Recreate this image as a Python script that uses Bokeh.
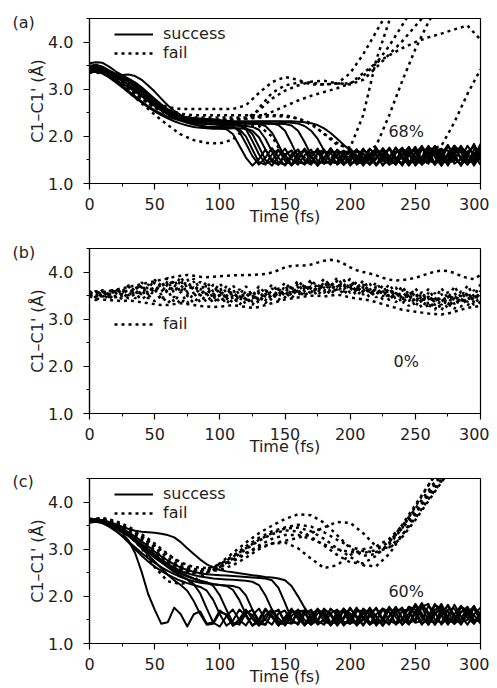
from bokeh.plotting import figure
from bokeh.layouts import column
from bokeh.models import Legend, LegendItem, Label, FixedTicker, PrintfTickFormatter, Range1d, Title
from bokeh.embed import file_html
from bokeh.resources import INLINE

# ---------------- data ----------------
time_5 = list(range(0, 301, 5))     # fs, 61 samples
time_10 = list(range(0, 301, 10))   # fs, 31 samples
x_ticks = [0, 50, 100, 150, 200, 250, 300]
x_minor = [25, 75, 125, 175, 225, 275]
y_ticks = [1.0, 2.0, 3.0, 4.0]
y_minor = [1.5, 2.5, 3.5, 4.5]
panel_tags = ["(a)", "(b)", "(c)"]
panel_pct = ["68%", "0%", "60%"]

# panel (a) success
a_s1 = [3.40, 3.42, 3.38, 3.30, 3.20, 3.08, 2.96, 2.85, 2.74, 2.64,
        2.55, 2.48, 2.42, 2.37, 2.33, 2.29, 2.25, 2.22, 2.20, 2.18,
        2.17, 2.15, 2.05, 1.80, 1.55, 1.38, 1.52, 1.72, 1.50, 1.40,
        1.62, 1.70, 1.45, 1.42, 1.66, 1.68, 1.44, 1.45, 1.70, 1.62,
        1.40, 1.50, 1.72, 1.58, 1.38, 1.55, 1.74, 1.52, 1.40, 1.62,
        1.72, 1.46, 1.45, 1.68, 1.70, 1.44, 1.50, 1.75, 1.62, 1.40,
        1.58]
a_s2 = [3.55, 3.57, 3.56, 3.48, 3.38, 3.30, 3.22, 3.12, 3.00, 2.88,
        2.76, 2.65, 2.56, 2.48, 2.42, 2.37, 2.33, 2.30, 2.28, 2.26,
        2.25, 2.24, 2.22, 2.10, 1.85, 1.58, 1.40, 1.55, 1.75, 1.55,
        1.38, 1.55, 1.72, 1.50, 1.42, 1.65, 1.72, 1.46, 1.44, 1.68,
        1.66, 1.40, 1.50, 1.74, 1.60, 1.38, 1.56, 1.76, 1.52, 1.42,
        1.66, 1.78, 1.48, 1.44, 1.72, 1.70, 1.42, 1.52, 1.80, 1.60,
        1.40]
a_s3 = [3.35, 3.38, 3.36, 3.32, 3.30, 3.30, 3.31, 3.28, 3.20, 3.08,
        2.95, 2.80, 2.66, 2.54, 2.45, 2.38, 2.33, 2.30, 2.28, 2.27,
        2.26, 2.25, 2.24, 2.22, 2.18, 2.05, 1.78, 1.50, 1.38, 1.58,
        1.74, 1.52, 1.40, 1.60, 1.72, 1.48, 1.42, 1.66, 1.68, 1.44,
        1.46, 1.70, 1.64, 1.40, 1.52, 1.75, 1.58, 1.40, 1.58, 1.78,
        1.55, 1.40, 1.62, 1.80, 1.52, 1.42, 1.68, 1.76, 1.46, 1.48,
        1.78]
a_s4 = [3.45, 3.47, 3.42, 3.35, 3.28, 3.22, 3.15, 3.05, 2.93, 2.80,
        2.68, 2.58, 2.50, 2.43, 2.38, 2.34, 2.32, 2.31, 2.32, 2.33,
        2.32, 2.30, 2.28, 2.25, 2.15, 1.90, 1.62, 1.42, 1.48, 1.70,
        1.62, 1.40, 1.50, 1.72, 1.58, 1.38, 1.52, 1.74, 1.55, 1.40,
        1.58, 1.72, 1.48, 1.42, 1.66, 1.70, 1.44, 1.46, 1.72, 1.66,
        1.40, 1.52, 1.78, 1.60, 1.38, 1.58, 1.80, 1.54, 1.40, 1.64,
        1.76]
a_s5 = [3.38, 3.40, 3.37, 3.30, 3.24, 3.18, 3.10, 3.00, 2.88, 2.76,
        2.64, 2.55, 2.47, 2.41, 2.36, 2.32, 2.29, 2.27, 2.26, 2.25,
        2.24, 2.24, 2.23, 2.23, 2.22, 2.20, 2.14, 1.95, 1.68, 1.44,
        1.40, 1.62, 1.72, 1.48, 1.40, 1.64, 1.70, 1.45, 1.44, 1.68,
        1.66, 1.42, 1.48, 1.72, 1.62, 1.40, 1.52, 1.76, 1.58, 1.38,
        1.56, 1.80, 1.56, 1.40, 1.62, 1.82, 1.52, 1.42, 1.68, 1.78,
        1.48]
a_s6 = [3.42, 3.44, 3.40, 3.34, 3.30, 3.27, 3.22, 3.14, 3.03, 2.90,
        2.77, 2.65, 2.55, 2.47, 2.41, 2.37, 2.35, 2.36, 2.37, 2.36,
        2.34, 2.32, 2.30, 2.29, 2.28, 2.27, 2.26, 2.22, 2.08, 1.82,
        1.55, 1.38, 1.52, 1.74, 1.56, 1.38, 1.55, 1.75, 1.54, 1.40,
        1.60, 1.72, 1.48, 1.42, 1.68, 1.68, 1.42, 1.48, 1.74, 1.62,
        1.38, 1.56, 1.80, 1.56, 1.38, 1.64, 1.80, 1.50, 1.42, 1.72,
        1.72]
a_s7 = [3.36, 3.38, 3.35, 3.28, 3.20, 3.12, 3.04, 2.95, 2.85, 2.75,
        2.65, 2.56, 2.48, 2.42, 2.37, 2.33, 2.30, 2.28, 2.27, 2.27,
        2.28, 2.29, 2.30, 2.30, 2.29, 2.28, 2.28, 2.28, 2.27, 2.24,
        2.12, 1.85, 1.55, 1.40, 1.55, 1.74, 1.52, 1.40, 1.62, 1.70,
        1.45, 1.44, 1.70, 1.64, 1.40, 1.52, 1.76, 1.56, 1.38, 1.60,
        1.78, 1.50, 1.42, 1.70, 1.74, 1.44, 1.48, 1.78, 1.64, 1.38,
        1.60]
a_s8 = [3.44, 3.45, 3.41, 3.35, 3.30, 3.26, 3.20, 3.10, 2.98, 2.85,
        2.72, 2.60, 2.50, 2.44, 2.40, 2.38, 2.37, 2.36, 2.34, 2.32,
        2.30, 2.29, 2.29, 2.29, 2.30, 2.30, 2.31, 2.31, 2.31, 2.31,
        2.30, 2.29, 2.27, 2.22, 2.12, 1.95, 1.70, 1.48, 1.42, 1.62,
        1.72, 1.50, 1.40, 1.62, 1.72, 1.48, 1.42, 1.68, 1.70, 1.44,
        1.46, 1.74, 1.64, 1.40, 1.54, 1.80, 1.58, 1.38, 1.60, 1.82,
        1.54]
a_s9 = [3.40, 3.41, 3.38, 3.33, 3.29, 3.25, 3.18, 3.08, 2.96, 2.84,
        2.72, 2.61, 2.52, 2.46, 2.42, 2.40, 2.39, 2.38, 2.37, 2.36,
        2.34, 2.33, 2.32, 2.32, 2.32, 2.32, 2.32, 2.32, 2.32, 2.32,
        2.32, 2.32, 2.31, 2.30, 2.28, 2.24, 2.17, 2.07, 1.95, 1.82,
        1.70, 1.55, 1.42, 1.50, 1.70, 1.62, 1.40, 1.48, 1.72, 1.66,
        1.42, 1.48, 1.76, 1.68, 1.42, 1.50, 1.80, 1.66, 1.40, 1.56,
        1.84]
a_s10 = [3.36, 3.37, 3.33, 3.25, 3.15, 3.04, 2.93, 2.82, 2.72, 2.62,
         2.53, 2.45, 2.38, 2.32, 2.27, 2.23, 2.20, 2.18, 2.17, 2.16,
         2.16, 2.16, 2.17, 2.17, 2.16, 2.12, 1.98, 1.72, 1.46, 1.40,
         1.60, 1.70, 1.46, 1.42, 1.66, 1.68, 1.42, 1.48, 1.72, 1.60,
         1.38, 1.54, 1.74, 1.54, 1.40, 1.62, 1.74, 1.48, 1.44, 1.70,
         1.68, 1.40, 1.52, 1.78, 1.60, 1.38, 1.62, 1.80, 1.52, 1.42,
         1.70]
a_s11 = [3.50, 3.52, 3.48, 3.40, 3.33, 3.28, 3.22, 3.14, 3.04, 2.92,
         2.80, 2.68, 2.58, 2.50, 2.44, 2.40, 2.37, 2.35, 2.33, 2.31,
         2.29, 2.28, 2.27, 2.27, 2.27, 2.27, 2.27, 2.27, 2.27, 2.27,
         2.26, 2.23, 2.12, 1.88, 1.60, 1.40, 1.52, 1.72, 1.58, 1.40,
         1.52, 1.72, 1.56, 1.40, 1.56, 1.74, 1.52, 1.40, 1.62, 1.76,
         1.50, 1.42, 1.68, 1.76, 1.46, 1.46, 1.74, 1.70, 1.42, 1.52,
         1.80]
a_s12 = [3.48, 3.50, 3.46, 3.38, 3.28, 3.18, 3.08, 2.97, 2.86, 2.75,
         2.65, 2.56, 2.48, 2.41, 2.35, 2.30, 2.26, 2.23, 2.21, 2.20,
         2.20, 2.20, 2.19, 2.15, 2.00, 1.72, 1.45, 1.40, 1.62, 1.72,
         1.48, 1.40, 1.64, 1.70, 1.45, 1.44, 1.68, 1.66, 1.40, 1.50,
         1.74, 1.60, 1.38, 1.56, 1.76, 1.54, 1.40, 1.64, 1.76, 1.48,
         1.44, 1.72, 1.72, 1.42, 1.50, 1.80, 1.62, 1.38, 1.58, 1.84,
         1.56]

# panel (a) fail (10 fs sampling)
a_f1 = [3.42, 3.40, 3.25, 3.06, 2.87, 2.72, 2.62, 2.58, 2.58, 2.58,
        2.58, 2.58, 2.66, 2.92, 3.15, 3.26, 3.20, 3.10, 3.10, 3.13,
        3.10, 3.20, 3.46, 3.74, 4.02, 4.34, 4.66, 4.95, 5.20, 5.40,
        5.60]
a_f2 = [3.38, 3.36, 3.18, 2.94, 2.70, 2.46, 2.24, 2.04, 1.92, 1.86,
        1.85, 1.93, 2.20, 2.60, 2.92, 3.08, 3.14, 3.14, 3.10, 3.12,
        3.34, 3.74, 4.22, 4.70, 5.10, 5.40, 5.70, 6.00, 6.20, 6.40,
        6.60]
a_f3 = [3.45, 3.42, 3.30, 3.12, 2.88, 2.67, 2.51, 2.43, 2.40, 2.40,
        2.40, 2.40, 2.40, 2.42, 2.52, 2.64, 2.76, 2.86, 2.94, 3.02,
        3.12, 3.34, 3.56, 3.72, 3.87, 4.00, 4.10, 4.18, 4.27, 4.35,
        4.05]
a_f4 = [3.40, 3.38, 3.22, 3.01, 2.80, 2.61, 2.48, 2.39, 2.34, 2.33,
        2.35, 2.36, 2.38, 2.55, 2.80, 2.97, 3.08, 3.16, 3.18, 3.12,
        3.12, 3.28, 3.55, 3.92, 4.36, 4.80, 5.20, 5.50, 5.80, 6.00,
        6.20]
a_f5 = [3.36, 3.34, 3.19, 3.00, 2.80, 2.61, 2.46, 2.38, 2.35, 2.35,
        2.35, 2.35, 2.37, 2.40, 2.43, 2.42, 2.38, 2.28, 2.05, 1.82,
        1.76, 2.45, 3.62, 4.45, 5.10, 5.60, 6.00, 6.30, 6.60, 6.80,
        7.00]
a_f6 = [3.44, 3.42, 3.28, 3.08, 2.88, 2.70, 2.56, 2.48, 2.45, 2.45,
        2.45, 2.45, 2.45, 2.45, 2.45, 2.45, 2.38, 2.25, 2.06, 1.86,
        1.72, 1.63, 1.80, 2.45, 3.18, 3.85, 4.42, 4.90, 5.30, 5.60,
        5.90]
a_f7 = [3.40, 3.38, 3.24, 3.04, 2.84, 2.66, 2.52, 2.42, 2.35, 2.30,
        2.27, 2.25, 2.24, 2.22, 2.00, 1.52, 1.62, 1.48, 1.70, 1.46,
        1.66, 1.50, 1.72, 1.48, 1.66, 1.54, 1.72, 1.80, 2.30, 2.90,
        3.42]

# panel (b) fail (5 fs sampling)
b_f1 = [3.55, 3.58, 3.56, 3.60, 3.62, 3.66, 3.68, 3.72, 3.74, 3.78,
        3.80, 3.84, 3.86, 3.90, 3.92, 3.94, 3.92, 3.90, 3.89, 3.90,
        3.91, 3.92, 3.93, 3.93, 3.94, 3.94, 3.95, 3.96, 3.99, 4.04,
        4.10, 4.13, 4.14, 4.14, 4.16, 4.20, 4.24, 4.26, 4.24, 4.18,
        4.10, 4.04, 4.00, 3.97, 3.93, 3.88, 3.84, 3.82, 3.83, 3.85,
        3.88, 3.92, 3.97, 4.01, 4.03, 4.02, 3.98, 3.92, 3.87, 3.85,
        3.94]
b_f2 = [3.48, 3.44, 3.42, 3.40, 3.40, 3.38, 3.40, 3.38, 3.36, 3.34,
        3.32, 3.30, 3.30, 3.32, 3.34, 3.32, 3.30, 3.28, 3.27, 3.26,
        3.27, 3.28, 3.30, 3.28, 3.26, 3.24, 3.26, 3.30, 3.34, 3.38,
        3.42, 3.44, 3.46, 3.48, 3.50, 3.50, 3.48, 3.50, 3.52, 3.50,
        3.46, 3.44, 3.42, 3.40, 3.36, 3.32, 3.28, 3.24, 3.20, 3.18,
        3.16, 3.14, 3.12, 3.11, 3.10, 3.12, 3.16, 3.20, 3.24, 3.26,
        3.28]
b_f3 = [3.60, 3.45, 3.62, 3.46, 3.65, 3.48, 3.70, 3.50, 3.74, 3.52,
        3.78, 3.52, 3.82, 3.55, 3.84, 3.52, 3.80, 3.48, 3.74, 3.42,
        3.68, 3.40, 3.64, 3.38, 3.60, 3.36, 3.62, 3.40, 3.66, 3.46,
        3.72, 3.50, 3.76, 3.54, 3.78, 3.56, 3.80, 3.58, 3.82, 3.58,
        3.78, 3.56, 3.74, 3.52, 3.70, 3.48, 3.66, 3.42, 3.62, 3.38,
        3.58, 3.34, 3.56, 3.30, 3.54, 3.30, 3.56, 3.34, 3.58, 3.36,
        3.60]
b_f4 = [3.48, 3.60, 3.46, 3.62, 3.48, 3.66, 3.50, 3.70, 3.52, 3.74,
        3.55, 3.80, 3.56, 3.84, 3.56, 3.86, 3.54, 3.80, 3.50, 3.74,
        3.46, 3.70, 3.42, 3.64, 3.40, 3.60, 3.40, 3.62, 3.44, 3.66,
        3.50, 3.70, 3.54, 3.74, 3.56, 3.76, 3.60, 3.80, 3.62, 3.84,
        3.60, 3.80, 3.56, 3.76, 3.52, 3.72, 3.48, 3.68, 3.42, 3.62,
        3.36, 3.58, 3.32, 3.56, 3.30, 3.58, 3.32, 3.60, 3.36, 3.62,
        3.40]
b_f5 = [3.52, 3.40, 3.54, 3.42, 3.56, 3.42, 3.58, 3.44, 3.62, 3.44,
        3.64, 3.40, 3.62, 3.36, 3.58, 3.34, 3.56, 3.36, 3.54, 3.34,
        3.52, 3.32, 3.50, 3.30, 3.48, 3.30, 3.50, 3.34, 3.54, 3.40,
        3.58, 3.44, 3.62, 3.48, 3.66, 3.50, 3.68, 3.52, 3.70, 3.52,
        3.68, 3.50, 3.64, 3.46, 3.60, 3.42, 3.54, 3.36, 3.50, 3.28,
        3.46, 3.24, 3.44, 3.20, 3.44, 3.22, 3.46, 3.26, 3.48, 3.30,
        3.50]
b_f6 = [3.58, 3.50, 3.62, 3.52, 3.66, 3.56, 3.72, 3.60, 3.78, 3.64,
        3.84, 3.66, 3.88, 3.68, 3.90, 3.66, 3.86, 3.62, 3.80, 3.58,
        3.76, 3.56, 3.72, 3.52, 3.70, 3.50, 3.70, 3.54, 3.74, 3.58,
        3.78, 3.62, 3.82, 3.66, 3.84, 3.68, 3.86, 3.70, 3.88, 3.70,
        3.86, 3.66, 3.82, 3.62, 3.78, 3.58, 3.74, 3.54, 3.70, 3.48,
        3.66, 3.44, 3.64, 3.42, 3.66, 3.44, 3.70, 3.46, 3.72, 3.48,
        3.74]
b_f7 = [3.54, 3.48, 3.58, 3.50, 3.60, 3.52, 3.64, 3.54, 3.68, 3.56,
        3.70, 3.58, 3.74, 3.60, 3.72, 3.58, 3.68, 3.54, 3.62, 3.50,
        3.58, 3.46, 3.56, 3.44, 3.54, 3.44, 3.56, 3.48, 3.60, 3.52,
        3.64, 3.56, 3.68, 3.60, 3.70, 3.62, 3.72, 3.64, 3.74, 3.64,
        3.72, 3.62, 3.68, 3.58, 3.64, 3.54, 3.60, 3.50, 3.56, 3.46,
        3.52, 3.40, 3.48, 3.36, 3.46, 3.36, 3.48, 3.40, 3.52, 3.42,
        3.54]
b_f8 = [3.50, 3.56, 3.48, 3.54, 3.46, 3.54, 3.44, 3.54, 3.42, 3.52,
        3.38, 3.50, 3.34, 3.48, 3.32, 3.50, 3.34, 3.52, 3.36, 3.54,
        3.36, 3.52, 3.34, 3.50, 3.32, 3.50, 3.34, 3.54, 3.40, 3.58,
        3.46, 3.62, 3.50, 3.66, 3.54, 3.68, 3.56, 3.70, 3.58, 3.72,
        3.56, 3.70, 3.52, 3.66, 3.46, 3.62, 3.40, 3.58, 3.32, 3.54,
        3.26, 3.50, 3.22, 3.48, 3.18, 3.48, 3.22, 3.50, 3.28, 3.52,
        3.32]

# panel (c) success
c_s1 = [3.60, 3.62, 3.60, 3.54, 3.45, 3.35, 3.18, 2.92, 2.52, 2.05,
        1.72, 1.42, 1.45, 1.76, 1.62, 1.36, 1.62, 1.68, 1.42, 1.45,
        1.70, 1.60, 1.38, 1.52, 1.72, 1.52, 1.38, 1.60, 1.72, 1.46,
        1.42, 1.68, 1.66, 1.40, 1.50, 1.72, 1.58, 1.38, 1.56, 1.74,
        1.52, 1.40, 1.64, 1.72, 1.44, 1.46, 1.74, 1.66, 1.40, 1.54,
        1.80, 1.60, 1.40, 1.62, 1.78, 1.52, 1.42, 1.68, 1.70, 1.46,
        1.52]
c_s2 = [3.58, 3.60, 3.58, 3.53, 3.46, 3.38, 3.28, 3.16, 3.02, 2.88,
        2.74, 2.60, 2.46, 2.34, 2.24, 2.12, 1.90, 1.62, 1.40, 1.42,
        1.66, 1.62, 1.38, 1.46, 1.70, 1.60, 1.38, 1.52, 1.72, 1.54,
        1.38, 1.58, 1.72, 1.50, 1.40, 1.64, 1.70, 1.44, 1.44, 1.70,
        1.64, 1.40, 1.50, 1.74, 1.58, 1.38, 1.58, 1.76, 1.52, 1.42,
        1.68, 1.78, 1.48, 1.44, 1.74, 1.68, 1.42, 1.52, 1.76, 1.60,
        1.42]
c_s3 = [3.62, 3.63, 3.60, 3.55, 3.48, 3.40, 3.31, 3.21, 3.10, 2.98,
        2.86, 2.74, 2.62, 2.52, 2.44, 2.36, 2.26, 2.06, 1.74, 1.44,
        1.36, 1.58, 1.72, 1.50, 1.38, 1.60, 1.74, 1.50, 1.40, 1.64,
        1.70, 1.44, 1.44, 1.70, 1.66, 1.40, 1.50, 1.74, 1.60, 1.38,
        1.56, 1.76, 1.54, 1.40, 1.62, 1.74, 1.48, 1.42, 1.70, 1.72,
        1.44, 1.48, 1.80, 1.66, 1.40, 1.56, 1.82, 1.58, 1.40, 1.62,
        1.76]
c_s4 = [3.58, 3.60, 3.57, 3.50, 3.40, 3.28, 3.14, 3.00, 2.86, 2.74,
        2.63, 2.54, 2.46, 2.39, 2.33, 2.28, 2.24, 2.20, 2.12, 1.92,
        1.62, 1.38, 1.48, 1.72, 1.58, 1.38, 1.52, 1.74, 1.56, 1.38,
        1.56, 1.74, 1.52, 1.40, 1.62, 1.72, 1.46, 1.42, 1.68, 1.68,
        1.42, 1.48, 1.74, 1.62, 1.38, 1.54, 1.78, 1.56, 1.40, 1.64,
        1.82, 1.54, 1.42, 1.72, 1.76, 1.46, 1.48, 1.78, 1.66, 1.42,
        1.58]
c_s5 = [3.60, 3.61, 3.58, 3.52, 3.45, 3.37, 3.28, 3.17, 3.05, 2.93,
        2.82, 2.72, 2.63, 2.55, 2.48, 2.42, 2.37, 2.33, 2.30, 2.22,
        2.02, 1.72, 1.44, 1.40, 1.64, 1.72, 1.48, 1.40, 1.64, 1.72,
        1.46, 1.42, 1.68, 1.70, 1.44, 1.46, 1.72, 1.64, 1.40, 1.52,
        1.74, 1.58, 1.38, 1.58, 1.76, 1.52, 1.40, 1.66, 1.76, 1.48,
        1.46, 1.78, 1.84, 1.50, 1.44, 1.72, 1.74, 1.46, 1.50, 1.76,
        1.62]
c_s6 = [3.62, 3.64, 3.61, 3.56, 3.49, 3.41, 3.32, 3.22, 3.11, 3.00,
        2.89, 2.78, 2.68, 2.59, 2.51, 2.44, 2.38, 2.33, 2.29, 2.26,
        2.24, 2.22, 2.14, 1.92, 1.62, 1.38, 1.46, 1.70, 1.60, 1.38,
        1.50, 1.72, 1.58, 1.38, 1.54, 1.74, 1.56, 1.40, 1.60, 1.72,
        1.48, 1.42, 1.68, 1.70, 1.44, 1.46, 1.74, 1.66, 1.40, 1.56,
        1.84, 1.64, 1.40, 1.62, 1.84, 1.56, 1.42, 1.66, 1.78, 1.50,
        1.46]
c_s7 = [3.56, 3.58, 3.55, 3.48, 3.39, 3.28, 3.16, 3.04, 2.92, 2.81,
        2.71, 2.62, 2.54, 2.47, 2.41, 2.36, 2.32, 2.29, 2.27, 2.25,
        2.24, 2.23, 2.22, 2.18, 2.02, 1.72, 1.42, 1.40, 1.66, 1.70,
        1.44, 1.44, 1.70, 1.66, 1.40, 1.50, 1.74, 1.60, 1.38, 1.56,
        1.76, 1.54, 1.40, 1.64, 1.74, 1.48, 1.44, 1.72, 1.70, 1.42,
        1.52, 1.82, 1.66, 1.40, 1.58, 1.82, 1.60, 1.40, 1.62, 1.80,
        1.54]
c_s8 = [3.60, 3.62, 3.60, 3.55, 3.48, 3.40, 3.31, 3.21, 3.10, 2.99,
        2.88, 2.78, 2.69, 2.61, 2.54, 2.49, 2.45, 2.42, 2.40, 2.38,
        2.37, 2.36, 2.35, 2.34, 2.33, 2.31, 2.24, 2.02, 1.72, 1.42,
        1.42, 1.68, 1.68, 1.42, 1.46, 1.72, 1.64, 1.40, 1.50, 1.74,
        1.60, 1.38, 1.54, 1.76, 1.56, 1.38, 1.58, 1.78, 1.54, 1.40,
        1.64, 1.86, 1.60, 1.40, 1.66, 1.80, 1.52, 1.42, 1.70, 1.74,
        1.48]
c_s9 = [3.62, 3.63, 3.61, 3.57, 3.51, 3.44, 3.36, 3.27, 3.17, 3.06,
        2.95, 2.85, 2.76, 2.68, 2.61, 2.56, 2.52, 2.49, 2.47, 2.46,
        2.45, 2.44, 2.43, 2.42, 2.41, 2.40, 2.39, 2.38, 2.34, 2.18,
        1.86, 1.52, 1.40, 1.62, 1.72, 1.48, 1.40, 1.64, 1.72, 1.46,
        1.42, 1.68, 1.70, 1.44, 1.46, 1.72, 1.66, 1.40, 1.52, 1.78,
        1.62, 1.40, 1.58, 1.84, 1.60, 1.40, 1.62, 1.80, 1.54, 1.42,
        1.68]
c_s10 = [3.60, 3.62, 3.62, 3.58, 3.53, 3.48, 3.43, 3.39, 3.37, 3.36,
         3.35, 3.33, 3.30, 3.25, 3.15, 3.02, 2.90, 2.78, 2.68, 2.61,
         2.56, 2.53, 2.51, 2.49, 2.47, 2.45, 2.43, 2.41, 2.40, 2.38,
         2.34, 2.22, 2.00, 1.76, 1.56, 1.42, 1.50, 1.72, 1.64, 1.40,
         1.48, 1.72, 1.66, 1.40, 1.48, 1.74, 1.68, 1.42, 1.48, 1.78,
         1.72, 1.42, 1.50, 1.82, 1.74, 1.44, 1.50, 1.78, 1.70, 1.44,
         1.60]

# panel (c) fail (10 fs sampling)
c_f1 = [3.62, 3.64, 3.52, 3.30, 3.02, 2.62, 2.32, 2.26, 2.34, 2.50,
        2.70, 2.92, 3.14, 3.34, 3.50, 3.64, 3.74, 3.72, 3.56, 3.30,
        3.02, 2.86, 2.90, 3.10, 3.45, 3.90, 4.35, 4.80, 5.20, 5.60,
        6.00]
c_f2 = [3.60, 3.62, 3.55, 3.42, 3.22, 2.98, 2.74, 2.56, 2.48, 2.50,
        2.62, 2.80, 3.00, 3.18, 3.32, 3.40, 3.38, 3.26, 3.08, 2.88,
        2.72, 2.70, 2.86, 3.14, 3.52, 3.94, 4.36, 4.76, 5.10, 5.40,
        5.70]
c_f3 = [3.62, 3.66, 3.60, 3.48, 3.32, 3.12, 2.90, 2.70, 2.58, 2.56,
        2.62, 2.74, 2.90, 3.08, 3.22, 3.30, 3.30, 3.22, 3.10, 3.00,
        2.94, 2.92, 2.98, 3.16, 3.44, 3.78, 4.14, 4.48, 4.80, 5.10,
        5.40]
c_f4 = [3.58, 3.60, 3.50, 3.34, 3.14, 2.92, 2.70, 2.56, 2.50, 2.54,
        2.64, 2.78, 2.92, 3.04, 3.12, 3.18, 3.24, 3.34, 3.46, 3.58,
        3.56, 3.34, 3.06, 3.02, 3.26, 3.62, 4.02, 4.42, 4.80, 5.20,
        5.60]
c_f5 = [3.64, 3.66, 3.58, 3.44, 3.26, 3.04, 2.82, 2.64, 2.54, 2.52,
        2.56, 2.66, 2.82, 3.00, 3.12, 3.14, 3.02, 2.80, 2.60, 2.66,
        2.88, 3.00, 3.06, 3.22, 3.50, 3.86, 4.24, 4.62, 5.00, 5.30,
        5.60]
c_f6 = [3.60, 3.62, 3.54, 3.38, 3.18, 2.96, 2.76, 2.62, 2.56, 2.58,
        2.68, 2.84, 3.02, 3.20, 3.34, 3.44, 3.46, 3.38, 3.22, 3.02,
        2.84, 2.66, 2.64, 2.90, 3.30, 3.74, 4.18, 4.58, 5.00, 5.30,
        5.60]
c_f7 = [3.62, 3.63, 3.56, 3.44, 3.28, 3.08, 2.88, 2.72, 2.62, 2.60,
        2.68, 2.86, 3.06, 3.24, 3.38, 3.46, 3.52, 3.48, 3.36, 3.20,
        3.06, 2.96, 2.94, 3.04, 3.30, 3.66, 4.06, 4.44, 4.80, 5.10,
        5.40]

a_success = [a_s1, a_s2, a_s3, a_s4, a_s5, a_s6, a_s7, a_s8, a_s9, a_s10, a_s11, a_s12]
a_fail = [a_f1, a_f2, a_f3, a_f4, a_f5, a_f6, a_f7]
b_fail = [b_f1, b_f2, b_f3, b_f4, b_f5, b_f6, b_f7, b_f8]
c_success = [c_s1, c_s2, c_s3, c_s4, c_s5, c_s6, c_s7, c_s8, c_s9, c_s10]
c_fail = [c_f1, c_f2, c_f3, c_f4, c_f5, c_f6, c_f7]

for name, arr, n in ([("a_s", s, 61) for s in a_success] + [("a_f", f, 31) for f in a_fail] +
                     [("b_f", f, 61) for f in b_fail] + [("c_s", s, 61) for s in c_success] +
                     [("c_f", f, 31) for f in c_fail]):
    assert len(arr) == n, (name, len(arr))

# ---------------- styling ----------------
FONT = "DejaVu Sans"
TXT = "#1e1e1e"
FS = "16px"
FRAME_H = 165
TOP = 10


def make_panel(tag, pct, success, fail, fail_time, height, legend_y, tag_standoff):
    p = figure(width=489, height=height, output_backend="svg", toolbar_location=None,
               x_range=Range1d(0, 300), y_range=Range1d(1.0, 4.5),
               min_border_left=89, min_border_right=9, min_border_top=TOP,
               min_border_bottom=height - TOP - FRAME_H,
               x_axis_label="Time (fs)", y_axis_label="C1–C1' (Å)")
    p.xgrid.grid_line_color = None
    p.ygrid.grid_line_color = None
    p.outline_line_color = "black"
    p.outline_line_width = 1.2
    p.outline_line_alpha = 1.0

    p.title = Title(text=tag, align="left", offset=-77, standoff=tag_standoff,
                    text_font=FONT, text_font_size=FS, text_font_style="normal",
                    text_color=TXT)

    p.xaxis.ticker = FixedTicker(ticks=x_ticks, minor_ticks=x_minor)
    p.yaxis.ticker = FixedTicker(ticks=y_ticks, minor_ticks=y_minor)
    p.yaxis.formatter = PrintfTickFormatter(format="%.1f")
    for ax in (p.xaxis[0], p.yaxis[0]):
        ax.axis_line_color = "black"
        ax.axis_line_width = 1.2
        ax.major_tick_line_color = "black"
        ax.major_tick_line_width = 1.2
        ax.minor_tick_line_color = "black"
        ax.minor_tick_line_width = 1.0
        ax.major_tick_out = 6
        ax.major_tick_in = 0
        ax.minor_tick_out = 3
        ax.minor_tick_in = 0
        ax.major_label_text_font = FONT
        ax.major_label_text_font_size = FS
        ax.major_label_text_color = TXT
        ax.axis_label_text_font = FONT
        ax.axis_label_text_font_size = FS
        ax.axis_label_text_font_style = "normal"
        ax.axis_label_text_color = TXT
    p.xaxis.major_label_standoff = 8
    p.xaxis.axis_label_standoff = -6
    p.yaxis.major_label_standoff = 10
    p.yaxis.axis_label_standoff = -2

    items = []
    if success:
        rs = [p.line(time_5, s, line_color="black", line_width=2, line_join="round")
              for s in success]
        items.append(LegendItem(label="success", renderers=[rs[0]]))
    rf = [p.line(fail_time, f, line_color="black", line_width=2.5, line_dash="3 4")
          for f in fail]
    items.append(LegendItem(label="fail", renderers=[rf[0]]))

    legend = Legend(items=items, location=(21, legend_y), border_line_alpha=0,
                    background_fill_alpha=0, label_text_font=FONT, label_text_font_size=FS,
                    label_text_color=TXT, glyph_width=39, glyph_height=14, label_height=14,
                    spacing=-4, padding=4, margin=0, label_standoff=10)
    p.add_layout(legend)

    p.add_layout(Label(x=243, y=2.1, text=pct, text_align="center", text_baseline="middle",
                       text_font=FONT, text_font_size=FS, text_color=TXT))
    return p


pa = make_panel(panel_tags[0], panel_pct[0], a_success, a_fail, time_10, 230, 117, -26)
pa.margin = (8, 0, 0, 0)
pb = make_panel(panel_tags[1], panel_pct[1], None, b_fail, time_5, 230, 76, -26)
pc = make_panel(panel_tags[2], panel_pct[2], c_success, c_fail, time_10, 220, 117, -25)

layout = column(pa, pb, pc)
open("out.html", "w").write(file_html(layout, INLINE))
